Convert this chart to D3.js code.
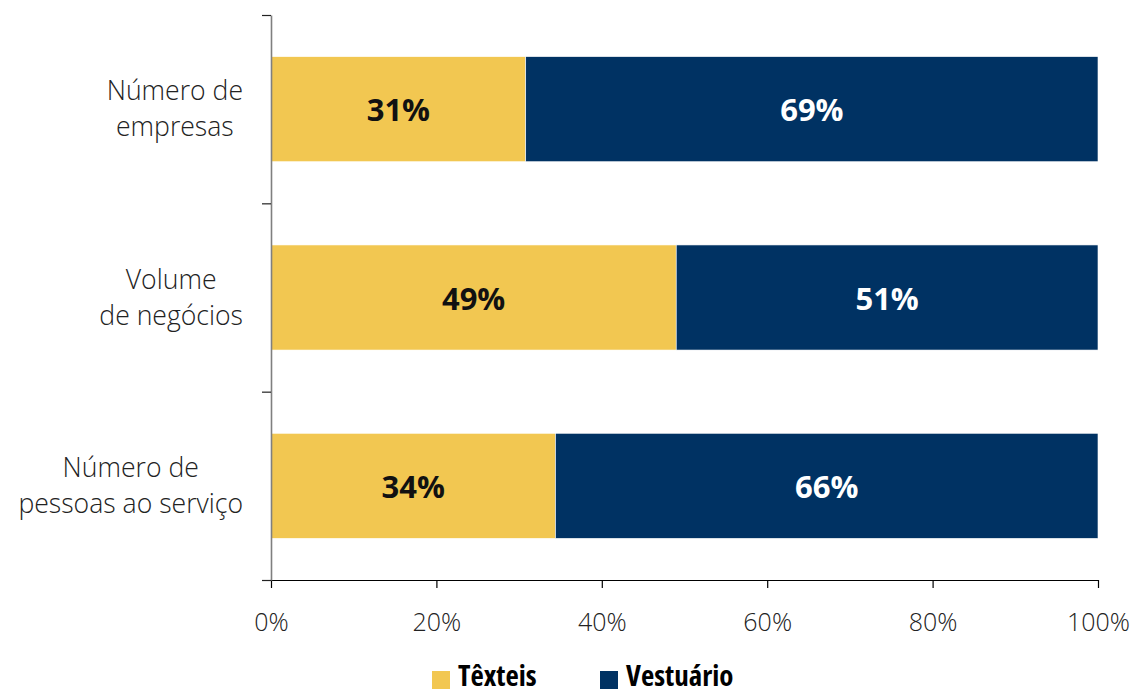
<!DOCTYPE html>
<html><head><meta charset="utf-8">
<script src="https://cdn.jsdelivr.net/npm/d3@7"></script>
<style>
body{margin:0;background:#fff;}
svg{display:block;font-family:"Open Sans",sans-serif;}
</style></head>
<body><svg id="c" width="1135" height="690"></svg>
<script>
const categories = [["Número de","empresas"],["Volume","de negócios"],["Número de","pessoas ao serviço"]];
const seriesNames = ["Têxteis","Vestuário"];
const texteis = [30.8, 49.0, 34.4];
const vestuario = [69.2, 51.0, 65.6];
const xTicks = [0,20,40,60,80,100];
const colors = ["#F2C751","#003263"];

const svg = d3.select("#c");
const mLeft = 271, mRight = 1098, mTop = 15, mBottom = 580;
const x = d3.scaleLinear().domain([0,100]).range([mLeft,mRight]);
const keys = categories.map((c,i)=>i);
const y = d3.scaleBand().domain(keys).range([mTop,mBottom]).paddingInner(0.442).paddingOuter(0.221);
const yLin = d3.scaleLinear().domain([0,categories.length]).range([mTop,mBottom]);

// bars
const rows = keys.map(i=>({i, t:texteis[i], v:vestuario[i]}));
const g = svg.append("g");
rows.forEach(r=>{
  const segs=[{s:0,e:r.t,val:r.t,c:colors[0],tc:"#111"},{s:r.t,e:r.t+r.v,val:r.v,c:colors[1],tc:"#fff"}];
  segs.forEach(s=>{
    g.append("rect").attr("x",x(s.s)).attr("y",y(r.i)).attr("width",x(s.e)-x(s.s)).attr("height",y.bandwidth())
      .attr("fill",s.c).attr("stroke","#fff").attr("stroke-width",0.6);
    g.append("text").attr("x",(x(s.s)+x(s.e))/2).attr("y",y(r.i)+y.bandwidth()/2+12)
      .attr("text-anchor","middle").attr("font-weight",700).attr("font-size",31)
      .attr("fill",s.tc).text(Math.round(s.val)+"%");
  });
});

// x axis
const xa = svg.append("g").attr("transform",`translate(0,${mBottom})`)
  .call(d3.axisBottom(x).tickValues(xTicks).tickFormat(d=>d+"%").tickSize(8).tickSizeOuter(0));
xa.select(".domain").attr("stroke","#000").attr("stroke-width",1.2);
xa.selectAll(".tick line").attr("stroke","#000").attr("stroke-width",1.2);
xa.selectAll(".tick text").attr("font-family","Open Sans").attr("font-weight",300).attr("font-size",25)
  .attr("fill","#222").attr("dy",0).attr("y",51);

// y axis
const ya = svg.append("g").attr("transform",`translate(${mLeft},0)`)
  .call(d3.axisLeft(yLin).tickValues(d3.range(categories.length+1)).tickFormat("").tickSize(9).tickSizeOuter(0));
ya.select(".domain").attr("stroke","#7f7f7f").attr("stroke-width",1.6);
ya.selectAll(".tick line").attr("stroke","#222").attr("stroke-width",1.2);

// category labels
const rightEdge = 243, lh = 36;
categories.forEach((lines,i)=>{
  const cy = y(i)+y.bandwidth()/2;
  const tg = svg.append("g");
  const ts = lines.map((ln,k)=>tg.append("text").attr("font-size",26.6).attr("font-weight",300).attr("fill","#222")
      .attr("text-anchor","middle").attr("y",cy + (k-(lines.length-1)/2)*lh + 9).text(ln));
  const w = d3.max(ts, t=>t.node().getComputedTextLength());
  ts.forEach(t=>t.attr("x",rightEdge - w/2));
});

// legend
const legX = [432, 600];
seriesNames.forEach((n,i)=>{
  svg.append("rect").attr("x",legX[i]).attr("y",671).attr("width",18).attr("height",18).attr("fill",colors[i]);
  svg.append("text").attr("x",legX[i]+26).attr("y",686).attr("font-size",29).attr("font-weight",700)
    .style("font-stretch","75%").attr("fill","#000").text(n);
});
</script></body></html>
